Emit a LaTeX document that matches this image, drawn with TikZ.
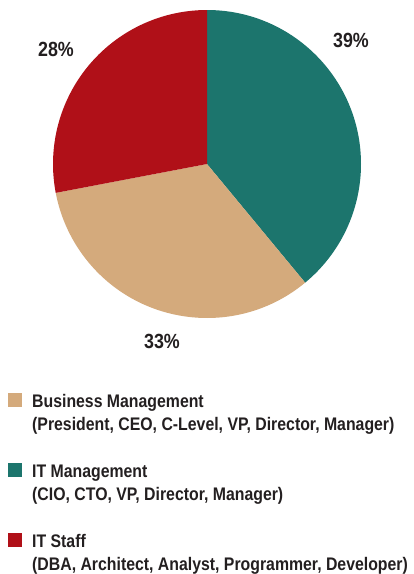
\documentclass[tikz,border=0pt]{standalone}
\usepackage{fontspec}
\setmainfont{Liberation Sans}[FakeStretch=0.87]
\definecolor{teal1}{HTML}{1C756D}
\definecolor{red1}{HTML}{B01018}
\definecolor{tan1}{HTML}{D4AA7C}
\definecolor{txt}{HTML}{231F20}
\begin{document}
\begin{tikzpicture}[x=1pt,y=1pt,
  pct/.style={font=\fontsize{20.5}{22}\selectfont\bfseries, text=txt, inner sep=0pt},
  legtxt/.style={font=\fontsize{18.2}{23}\selectfont\bfseries, text=txt, anchor=base west, inner sep=0pt},
  legsq/.style={minimum size=14pt, inner sep=0pt, anchor=south west}]
\useasboundingbox (0,0) rectangle (414,-574);
\coordinate (c) at (207,-164);
\fill[teal1] (c) -- ++(90:154) arc[start angle=90, end angle=-50.4, radius=154] -- cycle;
\fill[tan1] (c) -- ++(-50.4:154) arc[start angle=-50.4, end angle=-169.2, radius=154] -- cycle;
\fill[red1] (c) -- ++(-169.2:154) arc[start angle=-169.2, end angle=-270, radius=154] -- cycle;
\node[pct] (p39) at (351,-40) {39\%};
\node[pct] (p28) at (56,-49) {28\%};
\node[pct] (p33) at (162,-341) {33\%};
\node[legsq, fill=tan1] (s1) at (8,-407) {};
\node[legsq, fill=teal1] (s2) at (8,-477) {};
\node[legsq, fill=red1] (s3) at (8,-547) {};
\node[legtxt] (t1a) at (32,-407) {Business Management};
\node[legtxt] (t1b) at (32,-430) {(President, CEO, C-Level, VP, Director, Manager)};
\node[legtxt] (t2a) at (32,-477) {IT Management};
\node[legtxt] (t2b) at (32,-500) {(CIO, CTO, VP, Director, Manager)};
\node[legtxt] (t3a) at (32,-547) {IT Staff};
\node[legtxt] (t3b) at (32,-570) {(DBA, Architect, Analyst, Programmer, Developer)};
\end{tikzpicture}
\end{document}
